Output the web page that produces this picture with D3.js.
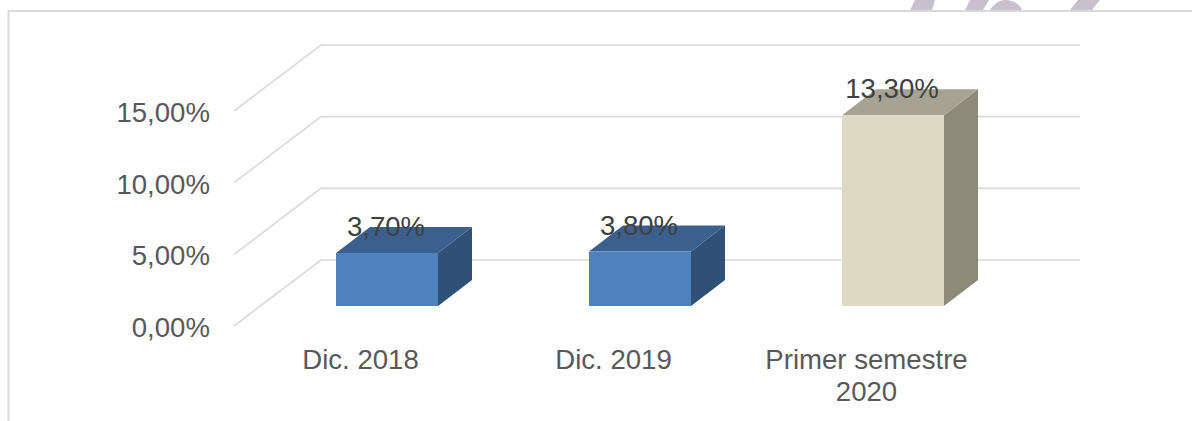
<!DOCTYPE html>
<html lang="es"><head>
<meta charset="utf-8">
<title>chart</title>
<script src="https://cdn.jsdelivr.net/npm/d3@7"></script>
<style>
html,body{margin:0;padding:0;background:#fff;overflow:hidden}
text{font-family:"Liberation Sans",Arial,sans-serif;font-size:27.6px}
</style>
</head>
<body>
<svg width="1192" height="421"></svg>
<script>
var categories = [["Dic. 2018"], ["Dic. 2019"], ["Primer semestre", "2020"]];
var values = [3.7, 3.8, 13.3];
var valueLabels = ["3,70%", "3,80%", "13,30%"];
var yTicks = [0, 5, 10, 15];
var yTickLabels = ["0,00%", "5,00%", "10,00%", "15,00%"];

var svg = d3.select("svg");

// floor front edge of the chart, the back wall sits wall[0],wall[1] away
var wall = [87, -66];
var barStart = [26.5, -20];
var barDepth = [34, -26];

var x = d3.scaleBand().domain(d3.range(categories.length)).range([234, 993]).paddingInner(0);
var y = d3.scaleLinear().domain([0, 15]).range([326, 111]);
var barW = 102;

// faces: front, top, side
var blue = ["#4f81bd", "#3b608e", "#315078"];
var tan = ["#ddd9c3", "#a6a394", "#8c8a78"];
var barColors = [blue, blue, tan];

// watermark scraps peeking above the frame
var mark = svg.append("g").attr("fill", "#c9bfce");
mark.append("path").attr("d", "M910 10L915 0L935 0L932 10Z");
mark.append("path").attr("d", "M965 10L970 0L989 0L983 10Z");
mark.append("path").attr("d", "M990 10C994 4 999 0 1005 0C1013 0 1020 4 1022 10Z");
mark.append("path").attr("d", "M1070 10L1078 0L1100 0L1092 10Z");

// frame
svg.append("path").attr("d", "M8.5 421V11H1192").attr("fill", "none").attr("stroke", "#d9d9d9").attr("stroke-width", 2);

// gridlines: slanted on the side wall, flat on the back wall
svg.append("g").selectAll("path").data(yTicks).enter().append("path")
  .attr("fill", "none").attr("stroke", "#d9d9d9").attr("stroke-width", 1.6)
  .attr("d", function(d){
    var p = d3.path();
    p.moveTo(234, y(d));
    p.lineTo(234 + wall[0], y(d) + wall[1]);
    p.lineTo(1080, y(d) + wall[1]);
    return p.toString();
  });

svg.append("g").selectAll("text").data(yTicks).enter().append("text")
  .attr("x", 210).attr("y", function(d){ return y(d) + 11; })
  .attr("text-anchor", "end").attr("fill", "#595959")
  .text(function(d, i){ return yTickLabels[i]; });

// bars
var bars = svg.append("g").selectAll("g").data(values).enter().append("g")
  .attr("transform", function(d, i){
    var left = x(i) + x.bandwidth() / 2 + barStart[0] - barW / 2;
    return "translate(" + left + "," + barStart[1] + ")";
  });

bars.append("path").attr("fill", function(d, i){ return barColors[i][2]; })
  .attr("d", function(d){
    return "M" + barW + "," + y(0) + "l" + barDepth[0] + "," + barDepth[1] + "V" + (y(d) + barDepth[1]) + "l" + (-barDepth[0]) + "," + (-barDepth[1]) + "Z";
  });
bars.append("path").attr("fill", function(d, i){ return barColors[i][1]; })
  .attr("d", function(d){
    return "M0," + y(d) + "l" + barDepth[0] + "," + barDepth[1] + "h" + barW + "l" + (-barDepth[0]) + "," + (-barDepth[1]) + "Z";
  });
bars.append("rect").attr("fill", function(d, i){ return barColors[i][0]; })
  .attr("x", 0).attr("width", barW)
  .attr("y", function(d){ return y(d); })
  .attr("height", function(d){ return y(0) - y(d); });

// value labels
bars.append("text")
  .attr("x", barW / 2 - 1).attr("y", function(d){ return y(d) - 17; })
  .attr("text-anchor", "middle").attr("fill", "#404040")
  .text(function(d, i){ return valueLabels[i]; });

// category labels
svg.append("g").selectAll("text").data(categories).enter().append("text")
  .attr("text-anchor", "middle").attr("fill", "#595959")
  .attr("transform", function(d, i){ return "translate(" + (x(i) + x.bandwidth() / 2) + ",0)"; })
  .selectAll("tspan").data(function(d){ return d; }).enter().append("tspan")
  .attr("x", 0)
  .attr("y", function(d, i){ return 369 + i * 32; })
  .text(function(d){ return d; });
</script>
</body>
</html>
